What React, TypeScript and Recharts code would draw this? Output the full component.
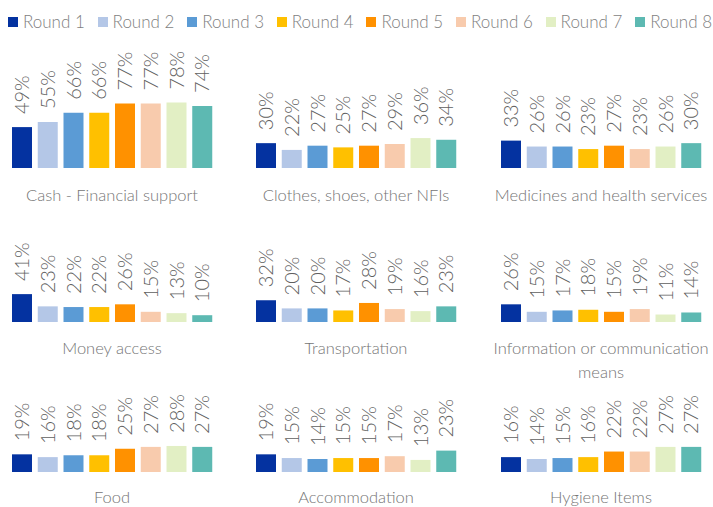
import React from "react";
import { BarChart, Bar, XAxis, YAxis, Cell, LabelList } from "recharts";

const ROUNDS = ["Round 1", "Round 2", "Round 3", "Round 4", "Round 5", "Round 6", "Round 7", "Round 8"];

const ROUND_COLORS = [
  "#0432a0", // Round 1
  "#b4c7e7", // Round 2
  "#5b9bd5", // Round 3
  "#ffc000", // Round 4
  "#ff9100", // Round 5
  "#f8cbad", // Round 6
  "#e2efc4", // Round 7
  "#5db9b2", // Round 8
];

const CATEGORIES = [
  ["Cash - Financial support"],
  ["Clothes, shoes, other NFIs"],
  ["Medicines and health services"],
  ["Money access"],
  ["Transportation"],
  ["Information or communication", "means"],
  ["Food"],
  ["Accommodation"],
  ["Hygiene Items"],
];

const cash = [49, 55, 66, 66, 77, 77, 78, 74];
const clothes = [30, 22, 27, 25, 27, 29, 36, 34];
const medicines = [33, 26, 26, 23, 27, 23, 26, 30];
const moneyAccess = [41, 23, 22, 22, 26, 15, 13, 10];
const transportation = [32, 20, 20, 17, 28, 19, 16, 23];
const information = [26, 15, 17, 18, 15, 19, 11, 14];
const food = [19, 16, 18, 18, 25, 27, 28, 27];
const accommodation = [19, 15, 14, 15, 15, 17, 13, 23];
const hygiene = [16, 14, 15, 16, 22, 22, 27, 27];

const SERIES = [cash, clothes, medicines, moneyAccess, transportation, information, food, accommodation, hygiene];

// layout of the 3x3 grid
const COL_LEFT = [9, 253, 498];
const PANEL_W = 206;
const ROW_BASE = [168, 322, 472];
const ROW_SCALE = [84.5, 68, 93]; // px for 100%
const ROW_LABEL_Y = [183, 336, 485];
const TOP_PAD = 60;

const FONT = "Lato, 'Open Sans', sans-serif";

function ValueLabel(props: any) {
  const { x, y, width, value } = props;
  const cx = x + width / 2;
  return (
    <text
      transform={`translate(${cx},${y - 13}) rotate(-90)`}
      textAnchor="start"
      dy="0.36em"
      fontSize={20}
      fontWeight={300}
      fontFamily={FONT}
      fill="#5f5f5f"
    >
      {value}%
    </text>
  );
}

function Panel({ values, index }: { values: number[]; index: number }) {
  const row = Math.floor(index / 3);
  const col = index % 3;
  const plotH = ROW_SCALE[row];
  const data = ROUNDS.map((r, i) => ({ round: r, value: values[i] }));
  return (
    <>
      <BarChart
        width={PANEL_W}
        height={plotH + TOP_PAD}
        data={data}
        margin={{ top: TOP_PAD, right: 0, bottom: 0, left: 0 }}
        style={{ position: "absolute", left: COL_LEFT[col], top: ROW_BASE[row] - plotH - TOP_PAD, overflow: "visible" }}
      >
        <XAxis dataKey="round" hide />
        <YAxis hide domain={[0, 100]} />
        <Bar dataKey="value" barSize={20} isAnimationActive={false}>
          {data.map((d, i) => (
            <Cell key={d.round} fill={ROUND_COLORS[i]} />
          ))}
          <LabelList dataKey="value" content={ValueLabel} />
        </Bar>
      </BarChart>
      <div
        style={{
          position: "absolute",
          left: COL_LEFT[col] + PANEL_W / 2 - 120,
          top: ROW_LABEL_Y[row],
          width: 240,
          textAlign: "center",
          fontFamily: FONT,
          fontWeight: 300,
          fontSize: 16.5,
          lineHeight: "24px",
          color: "#757575",
          whiteSpace: "nowrap",
        }}
      >
        {CATEGORIES[index].map((line) => (
          <div key={line}>{line}</div>
        ))}
      </div>
    </>
  );
}

export default function App() {
  return (
    <div
      style={{
        position: "absolute",
        left: 0,
        top: 0,
        width: 713,
        height: 507,
        background: "#ffffff",
        fontFamily: FONT,
        overflow: "hidden",
      }}
    >
      {/* legend */}
      {ROUNDS.map((r, i) => (
        <div
          key={r}
          style={{
            position: "absolute",
            left: 8 + i * 89.6,
            top: 11,
            display: "flex",
            alignItems: "center",
            fontSize: 17,
            fontWeight: 300,
            color: "#7f7f7f",
            whiteSpace: "nowrap",
          }}
        >
          <span style={{ width: 10, height: 10, background: ROUND_COLORS[i], marginRight: 5, display: "inline-block" }} />
          {r}
        </div>
      ))}
      {SERIES.map((values, i) => (
        <Panel key={i} values={values} index={i} />
      ))}
    </div>
  );
}
